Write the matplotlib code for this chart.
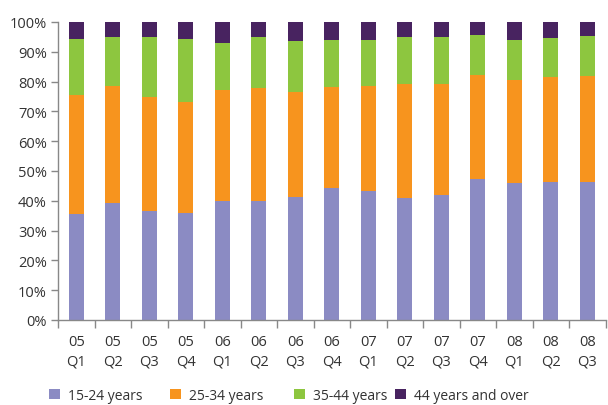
import numpy as np
import matplotlib
matplotlib.use("Agg")
import matplotlib.pyplot as plt

quarters = ["05\nQ1", "05\nQ2", "05\nQ3", "05\nQ4", "06\nQ1", "06\nQ2", "06\nQ3", "06\nQ4",
            "07\nQ1", "07\nQ2", "07\nQ3", "07\nQ4", "08\nQ1", "08\nQ2", "08\nQ3"]
age_15_24 = [35.6, 39.3, 36.6, 35.9, 40.0, 40.0, 41.3, 44.3, 43.3, 40.9, 41.9, 47.3, 46.1, 46.3, 46.3]
age_25_34 = [40.0, 39.2, 38.3, 37.3, 37.2, 37.8, 35.1, 34.0, 35.2, 38.3, 37.3, 35.0, 34.4, 35.3, 35.6]
age_35_44 = [18.7, 16.5, 20.1, 21.1, 15.8, 17.2, 17.2, 15.7, 15.5, 15.8, 15.8, 13.3, 13.5, 13.0, 13.4]
age_45_up = [5.7, 5.0, 5.0, 5.7, 7.0, 5.0, 6.4, 6.0, 6.0, 5.0, 5.0, 4.4, 6.0, 5.4, 4.7]

series = [("15-24 years", age_15_24, "#8B8BC3"),
          ("25-34 years", age_25_34, "#F7941E"),
          ("35-44 years", age_35_44, "#8DC63F"),
          ("44 years and over", age_45_up, "#482360")]

plt.rcParams["font.family"] = ["Open Sans", "DejaVu Sans"]
txt = "#333333"
grey = "#888888"

fig = plt.figure(figsize=(6.08, 4.06), dpi=100)
ax = fig.add_axes([0.0954, 0.2094, 0.9008, 0.734])

x = np.arange(len(quarters))
bottom = np.zeros(len(quarters))
handles = []
for name, vals, col in series:
    vals = np.array(vals)
    b = ax.bar(x, vals, 0.41, bottom=bottom, color=col, label=name)
    handles.append(b)
    bottom += vals

ax.set_xlim(-0.5, len(quarters) - 0.5)
ax.set_ylim(0, 100)
ax.set_yticks(np.arange(0, 101, 10))
ax.set_yticklabels([f"{v}%" for v in range(0, 101, 10)])
ax.set_xticks(x)
ax.set_xticklabels(quarters, linespacing=1.45)
ax.set_xticks(np.arange(-0.5, len(quarters), 1), minor=True)
ax.tick_params(axis="x", which="major", length=0, pad=10, labelsize=10.5, labelcolor=txt)
ax.tick_params(axis="x", which="minor", length=6, width=1, color=grey)
ax.tick_params(axis="y", length=5, width=1, color=grey, labelsize=10.5, labelcolor=txt, pad=3)

for s in ["top", "right"]:
    ax.spines[s].set_visible(False)
for s in ["left", "bottom"]:
    ax.spines[s].set_color(grey)
    ax.spines[s].set_linewidth(1)

# legend entries sit at uneven positions in the original, so place each one
legend_x = [49, 170, 294, 395]
for h, lx in zip(handles, legend_x):
    leg = fig.legend(handles=[h], loc="center left", bbox_to_anchor=(lx / 608, 0.024),
                     frameon=False, fontsize=10, handlelength=0.8, handleheight=0.8,
                     handletextpad=0.55, borderpad=0, borderaxespad=0, labelcolor=txt)

fig.savefig("out.png", dpi=100)
